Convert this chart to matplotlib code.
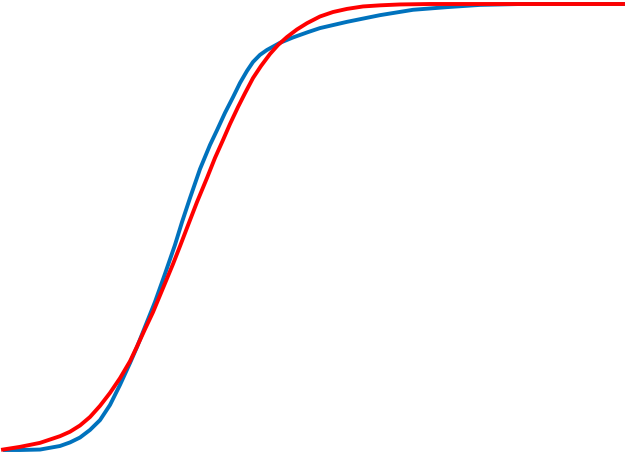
import matplotlib
matplotlib.use('Agg')
import matplotlib.pyplot as plt

# 经验分布 (blue)
blue_x = [5, 20, 40, 60, 70, 80, 90, 100, 110, 120, 130, 137, 145, 155, 165,
          175, 182, 190, 200, 210, 217, 225, 233, 240, 247, 253, 260, 267, 280,
          293, 308, 320, 347, 380, 413, 447, 480, 520, 623]
blue_y = [0.0, 0.0, 0.001, 0.009, 0.017, 0.028, 0.045, 0.067, 0.101, 0.146,
          0.195, 0.231, 0.276, 0.332, 0.395, 0.460, 0.511, 0.565, 0.630, 0.684,
          0.717, 0.756, 0.791, 0.823, 0.850, 0.870, 0.886, 0.897, 0.913, 0.925,
          0.937, 0.946, 0.960, 0.975, 0.987, 0.993, 0.998, 1.0, 1.0]

# 拟合分布 (red)
red_x = [3, 20, 40, 60, 70, 80, 90, 100, 110, 120, 130, 137, 145, 153, 163,
         173, 180, 187, 197, 207, 215, 223, 230, 238, 245, 253, 261, 270, 278,
         287, 297, 307, 320, 333, 347, 363, 380, 400, 430, 623]
red_y = [0.001, 0.007, 0.016, 0.031, 0.041, 0.055, 0.074, 0.099, 0.128, 0.161,
         0.199, 0.232, 0.271, 0.309, 0.363, 0.417, 0.457, 0.498, 0.556, 0.610,
         0.655, 0.695, 0.731, 0.769, 0.800, 0.834, 0.861, 0.888, 0.908, 0.926,
         0.943, 0.957, 0.972, 0.982, 0.989, 0.9945, 0.997, 0.999, 1.0, 1.0]

fig = plt.figure(figsize=(6.27, 4.55), dpi=100, facecolor='white')
ax = fig.add_axes([0, 0, 1, 1])
ax.plot(blue_x, blue_y, color='#0072BD', lw=2.8, solid_joinstyle='round')
ax.plot(red_x, red_y, color='#FF0000', lw=2.8, solid_joinstyle='round')
ax.set_xlim(0, 627)
ax.set_ylim(-5 / 446, 450 / 446)
ax.axis('off')
fig.savefig('out.png', dpi=100)
